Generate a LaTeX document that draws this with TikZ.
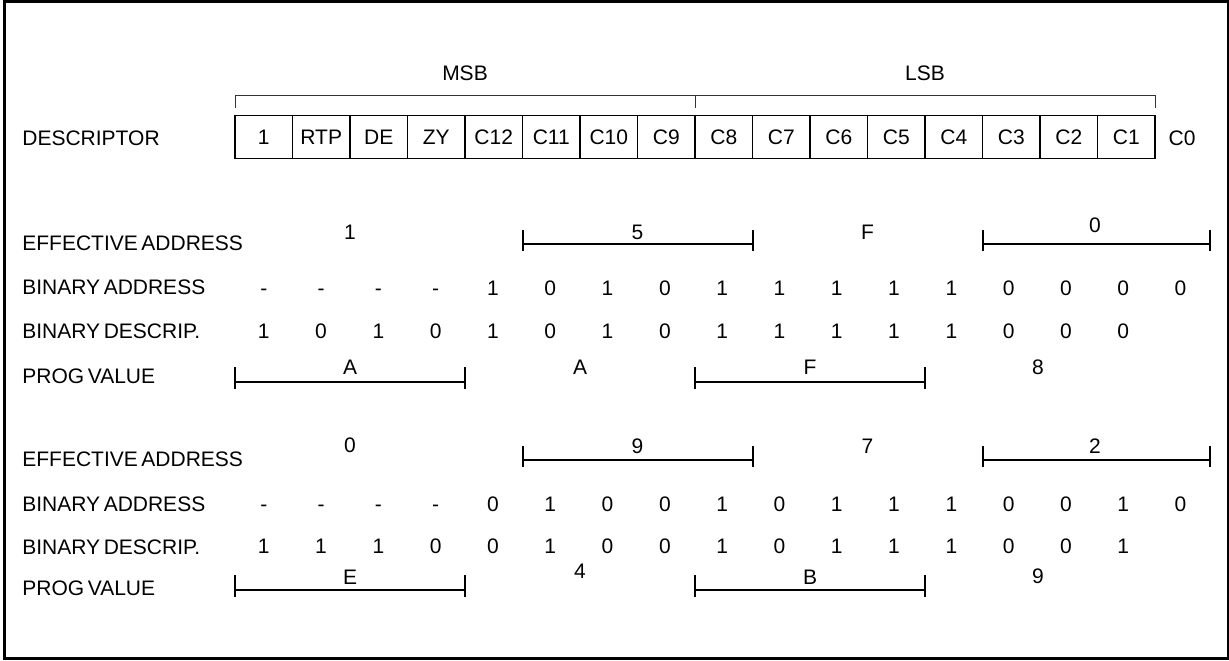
\documentclass[tikz,border=0pt]{standalone}
\usepackage{fontspec}
\setmainfont{Liberation Sans}
\newcommand{\nsp}{\hspace{0.17em}}
\begin{document}
\begin{tikzpicture}[x=0.5pt,y=-0.5pt,
  every node/.style={font=\fontsize{10.5}{12.6}\selectfont, inner sep=0pt, text height=7.5pt, text depth=0pt},
  lbl/.style={anchor=west},
  cellbox/.style={draw, line width=0.6pt, minimum width=28.75pt, minimum height=21.3pt},
  brk/.style={line width=1pt},
  topbrk/.style={line width=0.5pt, black!80},
  frame/.style={line width=1.25pt}]
\useasboundingbox (0,0) rectangle (1229,660);
\draw[frame] (4.5,1.3) rectangle (1228,658.7);

% ---------------- descriptor ----------------
\node[lbl] (desc) at (22,137.5) {DESCRIPTOR};
\foreach \t [count=\i from 0] in {1,RTP,DE,ZY,C12,C11,C10,C9,C8,C7,C6,C5,C4,C3,C2,C1}
  \node[cellbox] (c\i) at ({263.75+57.5*\i},136.8) {\t};
\node (c16) at (1182,137.5) {C0};

\node (msb) at (465,73) {MSB};
\node (lsb) at (925,73) {LSB};
\coordinate (tl) at (235,95);
\coordinate (tm) at (695,95);
\coordinate (tr) at (1155,95);
\draw[topbrk] (tl) ++(0,13) -- (tl) -- (tr) -- ++(0,13);
\draw[topbrk] (tm) -- ++(0,13);

% ---------------- section 1 ----------------
\node[lbl] (ea1) at (22,242.5) {EFFECTIVE\nsp ADDRESS};
\node[lbl] (ba1) at (22,287) {BINARY\nsp ADDRESS};
\node[lbl] (bd1) at (22,331) {BINARY\nsp DESCRIP.};
\node[lbl] (pv1) at (22,376) {PROG\nsp VALUE};

\node (eaA1) at (350,231.5) {1};
\node (eaB1) at (637.5,231.5) {5};
\node (eaC1) at (867.5,231.5) {F};
\node (eaD1) at (1095,225) {0};
\coordinate (eb1l) at (522.5,244);
\coordinate (eb1r) at (752.5,244);
\coordinate (ed1l) at (982.5,244);
\coordinate (ed1r) at (1210,244);
\draw[brk] (eb1l) -- (eb1r) (eb1l) ++(0,-14) -- ++(0,21) (eb1r) ++(0,-14) -- ++(0,21);
\draw[brk] (ed1l) -- (ed1r) (ed1l) ++(0,-14) -- ++(0,21) (ed1r) ++(0,-14) -- ++(0,21);

\foreach \v [count=\i from 0] in {-,-,-,-,1,0,1,0,1,1,1,1,1,0,0,0,0}
  \node (baa\i) at ({263.75+57.3*\i},288) {\v};
\foreach \v [count=\i from 0] in {1,0,1,0,1,0,1,0,1,1,1,1,1,0,0,0}
  \node (bda\i) at ({263.75+57.3*\i},331) {\v};

\node (pvA1) at (350,367) {A};
\node (pvB1) at (580,367) {A};
\node (pvC1) at (810,367) {F};
\node (pvD1) at (1038,367) {8};
\coordinate (pa1l) at (235,382);
\coordinate (pa1r) at (465,382);
\coordinate (pc1l) at (695,382);
\coordinate (pc1r) at (925,382);
\draw[brk] (pa1l) -- (pa1r) (pa1l) ++(0,-15) -- ++(0,22) (pa1r) ++(0,-15) -- ++(0,22);
\draw[brk] (pc1l) -- (pc1r) (pc1l) ++(0,-15) -- ++(0,22) (pc1r) ++(0,-15) -- ++(0,22);

% ---------------- section 2 ----------------
\node[lbl] (ea2) at (22,459) {EFFECTIVE\nsp ADDRESS};
\node[lbl] (ba2) at (22,503.5) {BINARY\nsp ADDRESS};
\node[lbl] (bd2) at (22,546.5) {BINARY\nsp DESCRIP.};
\node[lbl] (pv2) at (22,588) {PROG\nsp VALUE};

\node (eaA2) at (350,445) {0};
\node (eaB2) at (637.5,446) {9};
\node (eaC2) at (867.5,446) {7};
\node (eaD2) at (1095,446) {2};
\coordinate (eb2l) at (522.5,460);
\coordinate (eb2r) at (752.5,460);
\coordinate (ed2l) at (982.5,460);
\coordinate (ed2r) at (1210,460);
\draw[brk] (eb2l) -- (eb2r) (eb2l) ++(0,-14) -- ++(0,21) (eb2r) ++(0,-14) -- ++(0,21);
\draw[brk] (ed2l) -- (ed2r) (ed2l) ++(0,-14) -- ++(0,21) (ed2r) ++(0,-14) -- ++(0,21);

\foreach \v [count=\i from 0] in {-,-,-,-,0,1,0,0,1,0,1,1,1,0,0,1,0}
  \node (bab\i) at ({263.75+57.3*\i},504) {\v};
\foreach \v [count=\i from 0] in {1,1,1,0,0,1,0,0,1,0,1,1,1,0,0,1}
  \node (bdb\i) at ({263.75+57.3*\i},546) {\v};

\node (pvA2) at (350,577) {E};
\node (pvB2) at (580,571) {4};
\node (pvC2) at (810,577) {B};
\node (pvD2) at (1038,576) {9};
\coordinate (pa2l) at (235,590);
\coordinate (pa2r) at (465,590);
\coordinate (pc2l) at (695,590);
\coordinate (pc2r) at (925,590);
\draw[brk] (pa2l) -- (pa2r) (pa2l) ++(0,-15) -- ++(0,22) (pa2r) ++(0,-15) -- ++(0,22);
\draw[brk] (pc2l) -- (pc2r) (pc2l) ++(0,-15) -- ++(0,22) (pc2r) ++(0,-15) -- ++(0,22);
\end{tikzpicture}
\end{document}
